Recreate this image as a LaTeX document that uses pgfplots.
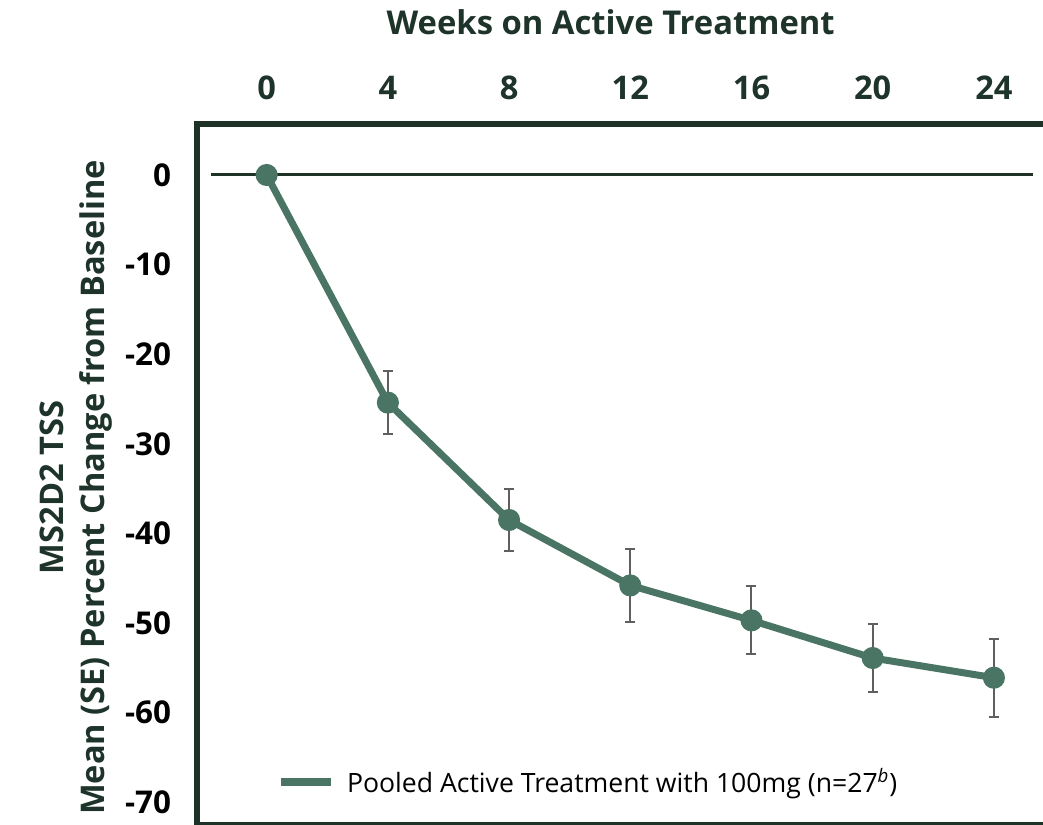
\documentclass[border=0pt]{standalone}
\usepackage{fontspec}
\setmainfont{Open Sans}
\usepackage{pgfplots}
\pgfplotsset{compat=1.18}

\definecolor{frame}{RGB}{30,50,40}
\definecolor{titlegreen}{RGB}{30,52,42}
\definecolor{series}{RGB}{74,117,101}
\definecolor{errgray}{RGB}{95,95,95}

\begin{document}
\begin{tikzpicture}
\begin{axis}[
  scale only axis,
  width=423pt, height=350.5pt,
  xmin=-2.30, xmax=25.62,
  ymin=-72.5, ymax=5.73,
  clip=false,
  axis line style={draw=none},
  major tick length=0pt,
  xtick={0,4,...,24},
  xticklabels={0,4,8,12,16,20,24},
  xticklabel pos=upper,
  ytick={-70,-60,-50,-40,-30,-20,-10,0},
  yticklabels={-70,-60,-50,-40,-30,-20,-10,0},
  xticklabel style={font=\fontsize{16.3}{19}\selectfont\bfseries, text=titlegreen,
    anchor=base, inner sep=0pt, yshift=11.85pt},
  yticklabel style={font=\fontsize{15.7}{19}\selectfont\bfseries, text=black,
    anchor=east, inner sep=0pt, xshift=-12.8pt},
  every axis title shift=0pt,
  title={Weeks on Active Treatment},
  title style={font=\fontsize{16.4}{19}\selectfont\bfseries, text=titlegreen,
    at={(axis description cs:0.489,1.127)}, anchor=base, inner sep=0pt},
  ylabel={MS2D2 TSS\\Mean (SE) Percent Change from Baseline},
  ylabel style={font=\fontsize{16.3}{20.5}\selectfont\bfseries, text=titlegreen,
    align=center, at={(axis description cs:-0.143,0.481)}, anchor=center, inner sep=0pt},
  legend style={at={(axis cs:0.33,-67.75)}, anchor=west, draw=none, fill=none,
    inner sep=0pt, font=\fontsize{13.3}{15}\selectfont, text=black,
    nodes={inner sep=0pt}, column sep=6pt},
  legend image code/.code={\draw[line width=4pt, series] (0pt,0pt) -- (25pt,0pt);},
]
% frame: left, top and bottom lines
\draw[line width=3pt, frame] (rel axis cs:1,1) -- (rel axis cs:0,1) -- (rel axis cs:0,0) -- (rel axis cs:1,0);
% zero reference line
\draw[line width=1.5pt, frame] (axis cs:-1.84,0) -- (axis cs:25.29,0);

\addplot[series, line width=3.5pt, mark=*, mark size=3.75pt,
  error bars/.cd, y dir=both, y explicit,
  error bar style={line width=1pt, errgray},
  error mark options={rotate=90, mark size=2.5pt, line width=1pt, errgray}]
  table[x=x, y=y, y error=e] {
  x  y      e
  0  0      0
  4  -25.4  3.5
  8  -38.5  3.5
  12 -45.8  4.1
  16 -49.7  3.8
  20 -53.9  3.8
  24 -56.1  4.35
  };
\addlegendentry{Pooled Active Treatment with 100mg (n=27\textsuperscript{\textit{b}})}

\coordinate (bbsw) at (axis cs:-8.80,-72.5);
\coordinate (bbne) at (axis cs:25.62,19.53);
\end{axis}
\pgfresetboundingbox
\useasboundingbox (bbsw) rectangle (bbne);
\end{tikzpicture}
\end{document}
